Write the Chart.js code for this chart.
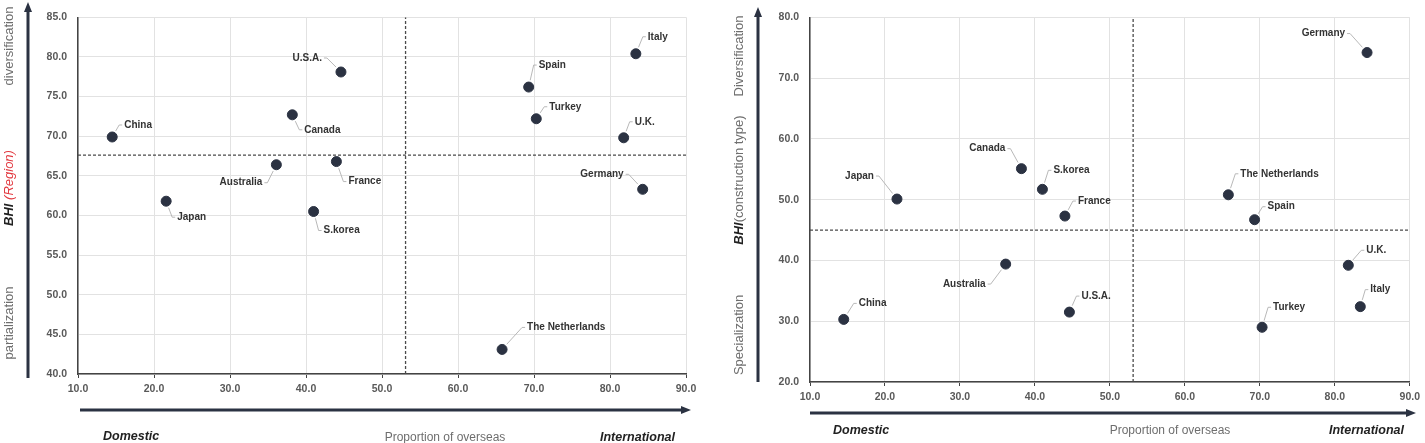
<!DOCTYPE html>
<html>
<head>
<meta charset="utf-8">
<script src="https://cdn.jsdelivr.net/npm/chart.js@4.4.1/dist/chart.umd.min.js"></script>
<style>
html, body { margin: 0; padding: 0; background: #fff; }
body { width: 1425px; height: 443px; position: relative; overflow: hidden; font-family: "Liberation Sans", Arial, sans-serif; }
canvas { position: absolute; top: 0; }
#regionChart { left: 0; }
#typeChart { left: 712px; }
svg { position: absolute; left: 0; top: 0; }
.t { position: absolute; white-space: nowrap; color: #6e6e6e; line-height: 1; }
.v { font-size: 13px; transform: translate(-50%, -50%) rotate(-90deg); }
.h { font-size: 12px; transform: translate(0, -50%); }
.c { transform: translate(-50%, -50%); }
.end { font-size: 12.5px; font-weight: bold; font-style: italic; color: #222; }
.bhi { font-weight: bold; font-style: italic; color: #222; }
.red { font-style: italic; color: #e2383f; }
</style>
</head>
<body>
<canvas id="regionChart" width="705" height="443"></canvas>
<canvas id="typeChart" width="713" height="443"></canvas>

<svg width="1425" height="443">
  <g stroke="#2b3242" stroke-width="3" fill="#2b3242">
    <line x1="28" y1="378" x2="28" y2="10"/>
    <polygon points="28,2 24,12 32,12" stroke="none"/>
    <line x1="80" y1="410" x2="682" y2="410"/>
    <polygon points="691,410 681,406 681,414" stroke="none"/>
    <line x1="758" y1="382" x2="758" y2="15"/>
    <polygon points="758,7 754,17 762,17" stroke="none"/>
    <line x1="810" y1="413" x2="1407" y2="413"/>
    <polygon points="1416,413 1406,409 1406,417" stroke="none"/>
  </g>
</svg>

<div class="t v" style="left:8px;top:46px;">diversification</div>
<div class="t v" style="left:8px;top:188px;"><span class="bhi">BHI</span> <span class="red">(Region)</span></div>
<div class="t v" style="left:8px;top:323px;">partialization</div>
<div class="t h end" style="left:103px;top:436px;">Domestic</div>
<div class="t h c" style="left:445px;top:437px;">Proportion of overseas</div>
<div class="t h end" style="left:600px;top:437px;">International</div>

<div class="t v" style="left:738px;top:56px;">Diversification</div>
<div class="t v" style="left:738px;top:180px;"><span class="bhi">BHI</span>(construction type)</div>
<div class="t v" style="left:738px;top:335px;">Specialization</div>
<div class="t h end" style="left:833px;top:430px;">Domestic</div>
<div class="t h c" style="left:1170px;top:430px;">Proportion of overseas</div>
<div class="t h end" style="left:1329px;top:430px;">International</div>

<script>
// --- Data ---
const countries = ['China', 'Japan', 'Australia', 'Canada', 'U.S.A.', 'France', 'S.korea',
                   'Spain', 'Turkey', 'Italy', 'U.K.', 'Germany', 'The Netherlands'];
const overseas  = [14.5, 21.6, 36.1, 38.2, 44.6, 44.0, 41.0, 69.3, 70.3, 83.4, 81.8, 84.3, 65.8];
const bhiRegion = [69.9, 61.8, 66.4, 72.7, 78.1, 66.8, 60.5, 76.2, 72.2, 80.4, 69.8, 63.3, 43.1];
const bhiType   = [30.3, 50.1, 39.4, 55.1, 31.5, 47.3, 51.7, 46.7, 29.0, 32.4, 39.2, 74.2, 50.8];

const overseasMean = 53.1;
const regionMean = 67.6;
const typeMean = 45.0;

const regionTicks = { min: 40, max: 85, step: 5 };
const typeTicks = { min: 20, max: 80, step: 10 };
const xTicks = { min: 10, max: 90, step: 10 };

// label placement: [dx to near text edge, dy, side]
const regionPlace = {
  'China': [11, -12, 'r'], 'Japan': [10, 16, 'r'], 'Australia': [-13, 18, 'l'],
  'Canada': [11, 15, 'r'], 'U.S.A.': [-18, -14, 'l'], 'France': [11, 20, 'r'],
  'S.korea': [9, 19, 'r'], 'Spain': [9, -22, 'r'], 'Turkey': [12, -12, 'r'],
  'Italy': [11, -17, 'r'], 'U.K.': [10, -16, 'r'], 'Germany': [-18, -15, 'l'],
  'The Netherlands': [24, -22, 'r']
};
const typePlace = {
  'China': [14, -16, 'r'], 'Japan': [-22, -23, 'l'], 'Australia': [-19, 20, 'l'],
  'Canada': [-15, -20, 'l'], 'U.S.A.': [11, -16, 'r'], 'France': [12, -15, 'r'],
  'S.korea': [10, -19, 'r'], 'Spain': [12, -13, 'r'], 'Turkey': [10, -20, 'r'],
  'Italy': [9, -17, 'r'], 'U.K.': [17, -15, 'r'], 'Germany': [-21, -19, 'l'],
  'The Netherlands': [11, -21, 'r']
};

const FONT = '"Liberation Sans", Arial, sans-serif';

const calloutPlugin = {
  id: 'callouts',
  afterDatasetsDraw(chart, args, opts) {
    const ctx = chart.ctx;
    const meta = chart.getDatasetMeta(0);
    ctx.save();
    ctx.font = 'bold 10px ' + FONT;
    ctx.textBaseline = 'middle';
    meta.data.forEach((pt, i) => {
      const [dx, dy, side] = opts.place[countries[i]];
      const dir = side === 'r' ? 1 : -1;
      const tx = pt.x + dx, ty = pt.y + dy;
      const ex = tx - dir * 4;
      const len = Math.hypot(ex - pt.x, ty - pt.y);
      const sx = pt.x + (ex - pt.x) / len * 7;
      const sy = pt.y + (ty - pt.y) / len * 7;
      ctx.strokeStyle = '#b0b0b0';
      ctx.lineWidth = 0.9;
      ctx.beginPath();
      ctx.moveTo(sx, sy);
      ctx.lineTo(ex, ty);
      ctx.lineTo(tx - dir, ty);
      ctx.stroke();
      ctx.fillStyle = '#333';
      ctx.textAlign = side === 'r' ? 'left' : 'right';
      ctx.fillText(countries[i], tx + dir, ty);
    });
    ctx.restore();
  }
};

const makeChart = (id, yValues, yMean, yt, place, box) => {
  const pts = countries.map((c, i) => ({ x: overseas[i], y: yValues[i] }));
  return new Chart(document.getElementById(id), {
    type: 'scatter',
    data: {
      datasets: [
        { data: pts, backgroundColor: '#2b3242', borderColor: '#2b3242', pointRadius: 5, pointHoverRadius: 5, order: 0 },
        { type: 'line', data: [{ x: overseasMean, y: yt.min }, { x: overseasMean, y: yt.max }],
          borderColor: '#4a4a4a', borderWidth: 1.3, borderDash: [3, 2], pointRadius: 0, order: 1 },
        { type: 'line', data: [{ x: xTicks.min, y: yMean }, { x: xTicks.max, y: yMean }],
          borderColor: '#4a4a4a', borderWidth: 1.3, borderDash: [3, 2], pointRadius: 0, order: 1 }
      ]
    },
    options: {
      responsive: false,
      animation: false,
      layout: { padding: { left: 0, top: box.top, right: box.right, bottom: 0 } },
      plugins: { legend: { display: false }, tooltip: { enabled: false }, callouts: { place } },
      scales: {
        x: {
          type: 'linear', min: xTicks.min, max: xTicks.max,
          ticks: { stepSize: xTicks.step, callback: v => v.toFixed(1), color: '#595959',
                   font: { family: FONT, size: 10.5, weight: 'bold' }, padding: 5 },
          grid: { color: '#e2e2e2', tickLength: 4, tickColor: '#444' },
          border: { color: '#444', width: 1.5 },
          afterFit: s => { s.height = box.xh; }
        },
        y: {
          type: 'linear', min: yt.min, max: yt.max,
          ticks: { stepSize: yt.step, callback: v => v.toFixed(1), color: '#595959',
                   font: { family: FONT, size: 10.5, weight: 'bold' }, padding: 11 },
          grid: { color: '#e2e2e2', drawTicks: false },
          border: { color: '#444', width: 1.5 },
          afterFit: s => { s.width = box.yw; }
        }
      }
    },
    plugins: [calloutPlugin]
  });
};

makeChart('regionChart', bhiRegion, regionMean, regionTicks, regionPlace, { top: 5, right: 19, xh: 69, yw: 78 });
makeChart('typeChart', bhiType, typeMean, typeTicks, typePlace, { top: 7, right: 14, xh: 61, yw: 98 });
</script>
</body>
</html>
